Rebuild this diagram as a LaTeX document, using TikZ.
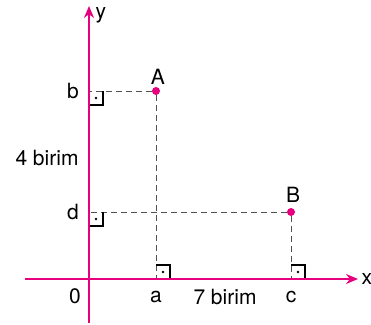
\documentclass[tikz,border=0pt]{standalone}
\usepackage{fontspec}
\setmainfont{TeX Gyre Heros}
\usepackage{tikz}
\usetikzlibrary{positioning,arrows.meta}
\definecolor{axmag}{RGB}{230,0,126}
\definecolor{guidegray}{RGB}{80,80,80}

\begin{document}
\begin{tikzpicture}[
  x=1pt, y=-1pt,
  >=Stealth,
  axis/.style={draw=axmag, line width=2pt, -{Stealth[length=12pt,width=10pt]}},
  guide/.style={draw=guidegray, line width=0.9pt, dash pattern=on 6pt off 4pt},
  pt/.style={circle, fill=axmag, inner sep=0pt, minimum size=8pt},
  lbl/.style={font=\fontsize{21}{24}\selectfont, inner sep=0pt},
  rmark/.style={draw, line width=1.1pt},
]
\useasboundingbox (0,0) rectangle (371,324);
% axes
\coordinate (O) at (89,279);
\coordinate (ybot) at (89,323);
\coordinate (ytip) at (89,6);
\coordinate (xleft) at (25,279);
\coordinate (xtip) at (358,279);
% points
\node[pt] (A) at (156,91) {};
\node[pt] (B) at (291,212) {};
\coordinate (yb) at (O |- A);
\coordinate (yd) at (O |- B);
\coordinate (xa) at (A |- O);
\coordinate (xc) at (B |- O);
% dashed guides
\draw[guide] (A) -- (yb);
\draw[guide] (A) -- (xa);
\draw[guide] (B) -- (yd);
\draw[guide] (B) -- (xc);
% right angle marks
\foreach \c/\dy in {yb/14, yd/14, xa/-14, xc/-14} {
  \draw[rmark] ([xshift=14pt]\c) -- ++(0,\dy) -- ++(-14,0);
  \fill ([xshift=7pt]\c) ++(0,\dy/2) circle (1.4pt);
}
\draw[axis] (ybot) -- (ytip);
\draw[axis] (xleft) -- (xtip);
% labels
\node[lbl, anchor=north west] (ly) at ([xshift=6.5pt,yshift=-1pt]ytip) {y};
\node[lbl, right=3.5pt of xtip] (lx) {x};
\node[lbl, below left=9pt and 8pt of O] (l0) {0};
\node[lbl, above=2pt of A, xshift=2pt] (lA) {A};
\node[lbl, above=5pt of B, xshift=2pt] (lB) {B};
\node[lbl, left=10pt of yb] (lb) {b};
\node[lbl, left=10pt of yd] (ld) {d};
\node[lbl, below=12pt of xa] (la) {a};
\node[lbl, below=12pt of xc] (lc) {c};
\node[lbl] (l4) at (47,158) {4 birim};
\node[lbl] (l7) at (225,297) {7 birim};
\end{tikzpicture}
\end{document}
